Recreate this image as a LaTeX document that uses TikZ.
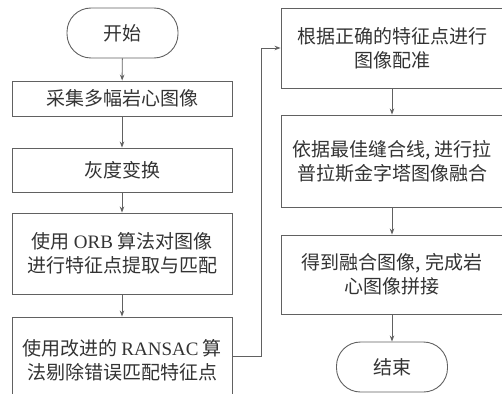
\documentclass[tikz,border=0pt]{standalone}
\usepackage{fontspec}
\setmainfont{Liberation Serif}
\newfontfamily\cjk{Noto Sans CJK SC}
\usetikzlibrary{arrows.meta}
\definecolor{linec}{gray}{0.38}
\definecolor{textc}{gray}{0.2}
\begin{document}
\begin{tikzpicture}[x=1pt,y=-1pt,
  box/.style={draw=linec, line width=0.9pt, inner sep=0pt, align=center,
    font=\cjk\fontsize{19}{24}\selectfont, text=textc},
  term/.style={box, rounded corners=24pt},
  arr/.style={draw=linec, line width=0.9pt, -{Stealth[length=6pt,width=4.5pt]}}]
\useasboundingbox (0,0) rectangle (502,393);
\begin{scope}
\clip (0,0) rectangle (502,393);
\node[term, minimum width=111pt, minimum height=50pt] (start) at (122.5,33) {开始};
\node[box, minimum width=220pt, minimum height=35pt] (b1) at (122,98.5) {采集多幅岩心图像};
\node[box, minimum width=220pt, minimum height=44pt] (b2) at (122,170) {灰度变换};
\node[box, minimum width=220pt, minimum height=81pt] (b3) at (122,253.5) {使用 {\rmfamily ORB} 算法对图像\\进行特征点提取与匹配};
\node[box, minimum width=220pt, minimum height=86pt] (b4) at (122,360) {使用改进的 {\rmfamily RANSAC} 算\\法剔除错误匹配特征点};
\node[box, minimum width=222pt, minimum height=80pt] (r1) at (392,48) {根据正确的特征点进行\\图像配准};
\node[box, minimum width=222pt, minimum height=92pt] (r2) at (392,161) {依据最佳缝合线, 进行拉\\普拉斯金字塔图像融合};
\node[box, minimum width=222pt, minimum height=79pt] (r3) at (392,274.5) {得到融合图像, 完成岩\\心图像拼接};
\node[term, minimum width=111pt, minimum height=50pt] (end) at (392,367) {结束};
\coordinate (c1) at (261,356);
\draw[arr] (start) -- (b1);
\draw[arr] (b1) -- (b2);
\draw[arr] (b2) -- (b3);
\draw[arr] (b3) -- (b4);
\draw[arr] (b4.east |- c1) -- (c1) |- (r1.west);
\draw[arr] (r1) -- (r2);
\draw[arr] (r2) -- (r3);
\draw[arr] (r3) -- (end);
\end{scope}
\end{tikzpicture}
\end{document}
